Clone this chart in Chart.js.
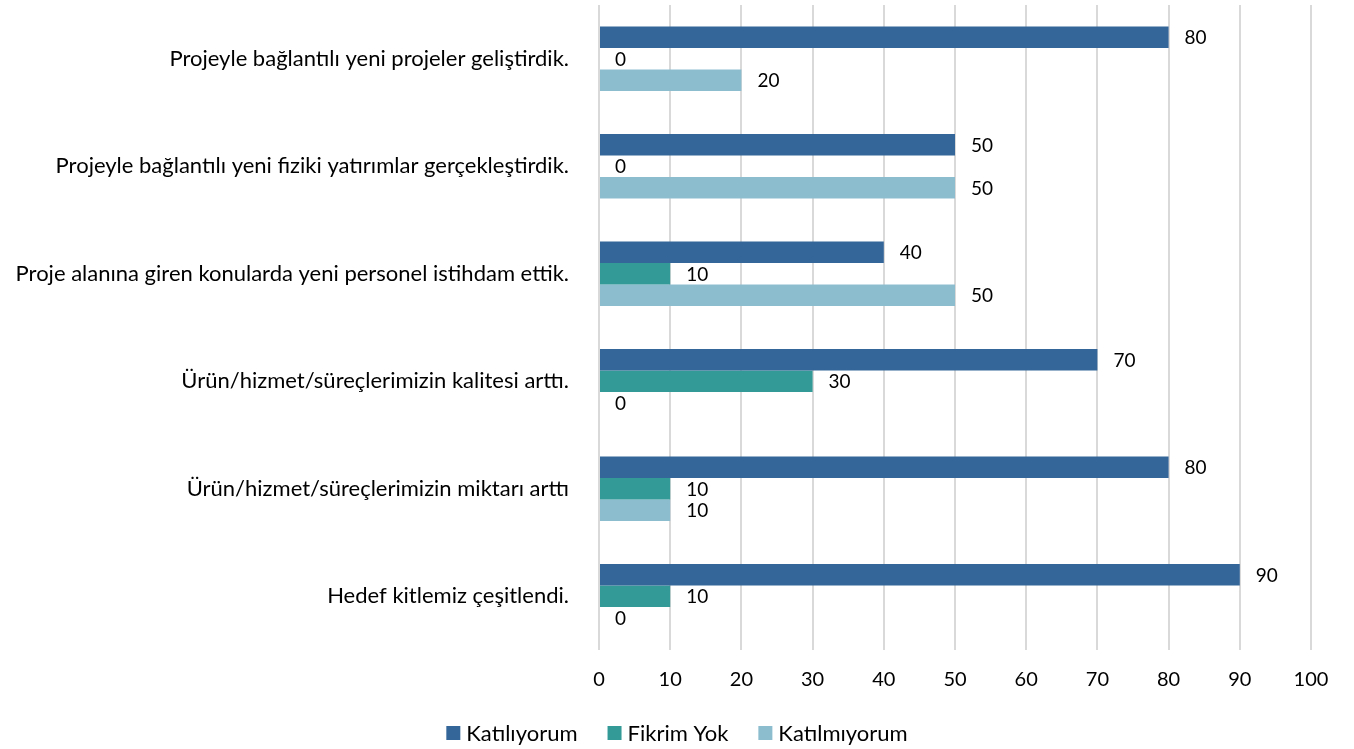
<!DOCTYPE html>
<html>
<head>
<meta charset="utf-8">
<script src="https://cdn.jsdelivr.net/npm/chart.js@4/dist/chart.umd.min.js"></script>
<style>
  html, body { margin: 0; padding: 0; background: #fff; }
  #wrap { width: 1354px; height: 749px; position: relative; }
</style>
</head>
<body>
<div id="wrap"><canvas id="myChart"></canvas></div>
<script>
var categories = [
    "Projeyle bağlantılı yeni projeler geliştirdik.",
    "Projeyle bağlantılı yeni fiziki yatırımlar gerçekleştirdik.",
    "Proje alanına giren konularda yeni personel istihdam ettik.",
    "Ürün/hizmet/süreçlerimizin kalitesi arttı.",
    "Ürün/hizmet/süreçlerimizin miktarı arttı",
    "Hedef kitlemiz çeşitlendi."
];
var katiliyorum = [80, 50, 40, 70, 80, 90];
var fikrimYok = [0, 0, 10, 30, 10, 10];
var katilmiyorum = [20, 50, 50, 0, 10, 0];
var xTicks = [0, 10, 20, 30, 40, 50, 60, 70, 80, 90, 100];

var fontFamily = "Lato, 'Open Sans', sans-serif";

// draws the value just right of every bar end
var valueLabels = {
    id: 'valueLabels',
    afterDatasetsDraw: function(chart) {
        var ctx = chart.ctx;
        ctx.save();
        ctx.font = "19px " + fontFamily;
        ctx.fillStyle = "#000";
        ctx.textAlign = "left";
        ctx.textBaseline = "middle";
        chart.data.datasets.forEach(function(ds, i) {
            var meta = chart.getDatasetMeta(i);
            meta.data.forEach(function(bar, j) {
                ctx.fillText(ds.data[j], bar.x + 16, bar.y + 1);
            });
        });
        ctx.restore();
    }
};

// bottom legend, drawn by hand so the spacing matches
var bottomLegend = {
    id: 'bottomLegend',
    afterDraw: function(chart) {
        var ctx = chart.ctx;
        var box = 14, gap = 6, spacing = 30, y = 733;
        ctx.save();
        ctx.font = "22px " + fontFamily;
        ctx.textBaseline = "middle";
        ctx.textAlign = "left";
        var items = chart.data.datasets.map(function(ds) {
            return { text: ds.label, color: ds.backgroundColor, w: ctx.measureText(ds.label).width };
        });
        var total = 0;
        items.forEach(function(it, i) {
            total += box + gap + it.w + (i < items.length - 1 ? spacing : 0);
        });
        var x = (chart.width - total) / 2;
        items.forEach(function(it) {
            ctx.fillStyle = it.color;
            ctx.fillRect(x, y - box / 2, box, box);
            ctx.fillStyle = "#000";
            ctx.fillText(it.text, x + box + gap, y + 1);
            x += box + gap + it.w + spacing;
        });
        ctx.restore();
    }
};

var myChart = new Chart(document.getElementById('myChart').getContext('2d'), {
    type: 'bar',
    data: {
        labels: categories,
        datasets: [
            { label: "Katılıyorum", data: katiliyorum, backgroundColor: "#34669a" },
            { label: "Fikrim Yok", data: fikrimYok, backgroundColor: "#349a98" },
            { label: "Katılmıyorum", data: katilmiyorum, backgroundColor: "#8bbdcf" }
        ]
    },
    options: {
        indexAxis: 'y',
        responsive: true,
        maintainAspectRatio: false,
        animation: false,
        layout: { padding: { top: 5, right: 43, bottom: 42, left: 0 } },
        datasets: {
            bar: { categoryPercentage: 0.6, barPercentage: 1.0 }
        },
        scales: {
            x: {
                min: 0,
                max: 100,
                afterBuildTicks: function(axis) {
                    axis.ticks = xTicks.map(function(v) { return { value: v }; });
                },
                afterFit: function(axis) { axis.height = 57; },
                grid: { color: "#d9d9d9", lineWidth: 2, drawTicks: false },
                border: { display: false },
                ticks: {
                    color: "#000",
                    padding: 18,
                    font: { size: 20, family: fontFamily }
                }
            },
            y: {
                afterFit: function(axis) {
                    axis.width = 599;
                    axis.paddingTop = 0;
                    axis.paddingBottom = 0;
                },
                grid: { display: false },
                border: { display: false },
                ticks: {
                    color: "#000",
                    padding: 22,
                    font: { size: 22, family: fontFamily }
                }
            }
        },
        plugins: {
            legend: { display: false },
            tooltip: { enabled: false }
        }
    },
    plugins: [valueLabels, bottomLegend]
});
</script>
</body>
</html>
